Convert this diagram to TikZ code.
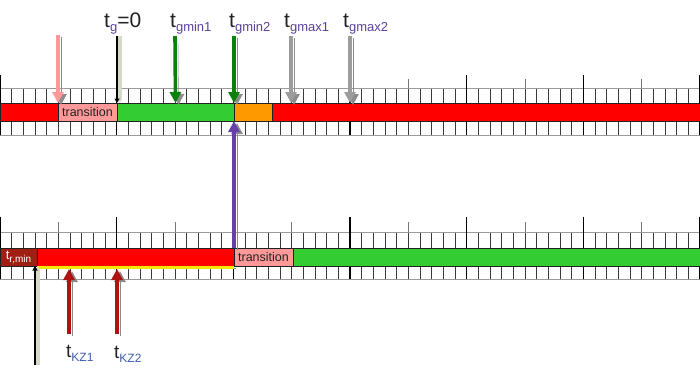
\documentclass[tikz,border=0pt]{standalone}
\usepackage{fontspec}
\setmainfont{Liberation Sans}
\usepackage{tikz}
\usetikzlibrary{arrows.meta, positioning}
\definecolor{barred}{HTML}{FF0000}
\definecolor{bargreen}{HTML}{33CC33}
\definecolor{barorange}{HTML}{FF9900}
\definecolor{barpink}{HTML}{FF9999}
\definecolor{bardark}{HTML}{A01E12}
\definecolor{ink}{HTML}{222222}
\definecolor{subink}{HTML}{5B3F9E}
\definecolor{kzink}{HTML}{3F5CA8}
\definecolor{gridink}{HTML}{3A3A3A}
\definecolor{gridrule}{HTML}{9A9A9A}
\definecolor{shade}{HTML}{8C8C8C}
\definecolor{paleshade}{HTML}{D3DBC6}
\definecolor{mingreen}{HTML}{0B800B}
\definecolor{maxgray}{HTML}{9C9C9C}
\definecolor{shiftviolet}{HTML}{6640A8}
\definecolor{kzred}{HTML}{B01212}
\definecolor{limityellow}{HTML}{F5E800}
\newcommand{\tk}{11.6667}
\newcommand{\tsym}[3][subink]{t\raisebox{-0.42ex}{\fontsize{#2}{#2}\selectfont\color{#1}#3}}
\tikzset{
  seg/.style      ={draw=ink, line width=0.6pt, minimum height=18pt, inner sep=0pt,
                    outer sep=0pt, anchor=west, text=ink, font=\fontsize{12.5}{12.5}\selectfont},
  gridtick/.style ={draw=gridink, line width=0.6pt},
  gridline/.style ={draw=gridrule, line width=0.6pt},
  majortick/.style={draw=black, line width=1.2pt},
  midtick/.style  ={draw=gridink!70, line width=0.8pt},
  fatarrow/.style ={line width=3.6pt, -{Triangle[length=11pt,width=11pt]},
                    preaction={draw=shade, transform canvas={xshift=3pt,yshift=-2pt}}},
  thinarrow/.style={line width=1.6pt, draw=black, -{Triangle[length=4.5pt,width=5pt]},
                    preaction={draw=paleshade, line width=4pt, transform canvas={xshift=2.6pt}}},
  pinkarrow/.style  ={fatarrow, draw=barpink},
  greenarrow/.style ={fatarrow, draw=mingreen},
  grayarrow/.style  ={fatarrow, draw=maxgray},
  violetarrow/.style={fatarrow, draw=shiftviolet},
  kzarrow/.style    ={fatarrow, draw=kzred},
  limitline/.style  ={draw=limityellow, line width=3pt,
                      preaction={draw=shade, transform canvas={xshift=1.5pt,yshift=-1pt}}},
  lab/.style        ={anchor=base west, inner sep=0pt, text=ink, font=\fontsize{21}{21}\selectfont}
}
\begin{document}
\begin{tikzpicture}[x=1pt, y=-1pt]
  \useasboundingbox (0,0) rectangle (700,375);

  \foreach \ya/\yb in {88/103, 121/135, 232/248, 266/279}
    \foreach \k in {0,...,60}
      \draw[gridtick] (\k*\tk,\ya) -- (\k*\tk,\yb);
  \foreach \ya/\yb in {88/135, 232/279}
    \draw[gridline] (0,\ya) -- (700,\ya) (0,\yb) -- (700,\yb);
  \foreach \k in {0,10,...,60} {
    \draw[majortick] (\k*\tk,75)  -- (\k*\tk,135);
    \draw[majortick] (\k*\tk,217) -- (\k*\tk,279);
  }
  \foreach \k in {5,15,...,55} {
    \draw[midtick] (\k*\tk,79)  -- (\k*\tk,88);
    \draw[midtick] (\k*\tk,222) -- (\k*\tk,232);
  }

  \node[seg, fill=barred,    minimum width=58pt]                   (r1)  at (0,112) {};
  \node[seg, fill=barpink,   minimum width=59pt,  right=0pt of r1]  (tr1) {transition};
  \node[seg, fill=bargreen,  minimum width=117pt, right=0pt of tr1] (g1)  {};
  \node[seg, fill=barorange, minimum width=38pt,  right=0pt of g1]  (o1)  {};
  \node[seg, fill=barred,    minimum width=428pt, right=0pt of o1]  (r2)  {};

  \node[seg, fill=bardark, minimum width=37pt, text=white, font=\fontsize{13}{13}\selectfont]
    (dr) at (0,257) {\tsym[white]{10}{r,min}};
  \node[seg, fill=barred,   minimum width=197pt, right=0pt of dr]  (r3)  {};
  \node[seg, fill=barpink,  minimum width=59pt,  right=0pt of r3]  (tr2) {transition};
  \node[seg, fill=bargreen, minimum width=407pt, right=0pt of tr2] (g2)  {};

  \draw[limitline] ([yshift=-1.5pt]r3.south west) -- ([yshift=-1.5pt]r3.south east);

  \coordinate (apink)  at (58,35);
  \coordinate (azero)  at (117,36);
  \coordinate (amin1)  at (175,36);
  \coordinate (amin2)  at (234,36);
  \coordinate (amax1)  at (291,36);
  \coordinate (amax2)  at (350,36);
  \coordinate (armin)  at (35,365);
  \coordinate (akz1)   at (69,334);
  \coordinate (akz2)   at (117,334);

  \draw[pinkarrow]   (apink) -- (tr1.north west);
  \draw[thinarrow]   (azero) -- (tr1.north east);
  \draw[greenarrow]  (amin1) -- (g1.north);
  \draw[greenarrow]  (amin2) -- (g1.north east);
  \draw[grayarrow]   (amax1) -- (amax1 |- r2.north);
  \draw[grayarrow]   (amax2) -- (amax2 |- r2.north);
  \draw[violetarrow] (r3.north east) -- (g1.south east);
  \draw[thinarrow]   (armin) -- (armin |- dr.south);
  \draw[kzarrow]     (akz1) -- ([yshift=-3pt]akz1 |- r3.south);
  \draw[kzarrow]     (akz2) -- ([yshift=-3pt]akz2 |- r3.south);

  \node[lab] (lbzero) at (104,27) {\tsym{13}{g}=0};
  \node[lab] (lbmin1) at (170,27) {\tsym{13}{gmin1}};
  \node[lab] (lbmin2) at (229,27) {\tsym{13}{gmin2}};
  \node[lab] (lbmax1) at (284,27) {\tsym{13}{gmax1}};
  \node[lab] (lbmax2) at (343,27) {\tsym{13}{gmax2}};
  \node[lab, font=\fontsize{19}{19}\selectfont] (lbkz1) at (66,357)  {\tsym[kzink]{12}{KZ1}};
  \node[lab, font=\fontsize{19}{19}\selectfont] (lbkz2) at (114,358) {\tsym[kzink]{12}{KZ2}};
\end{tikzpicture}
\end{document}
